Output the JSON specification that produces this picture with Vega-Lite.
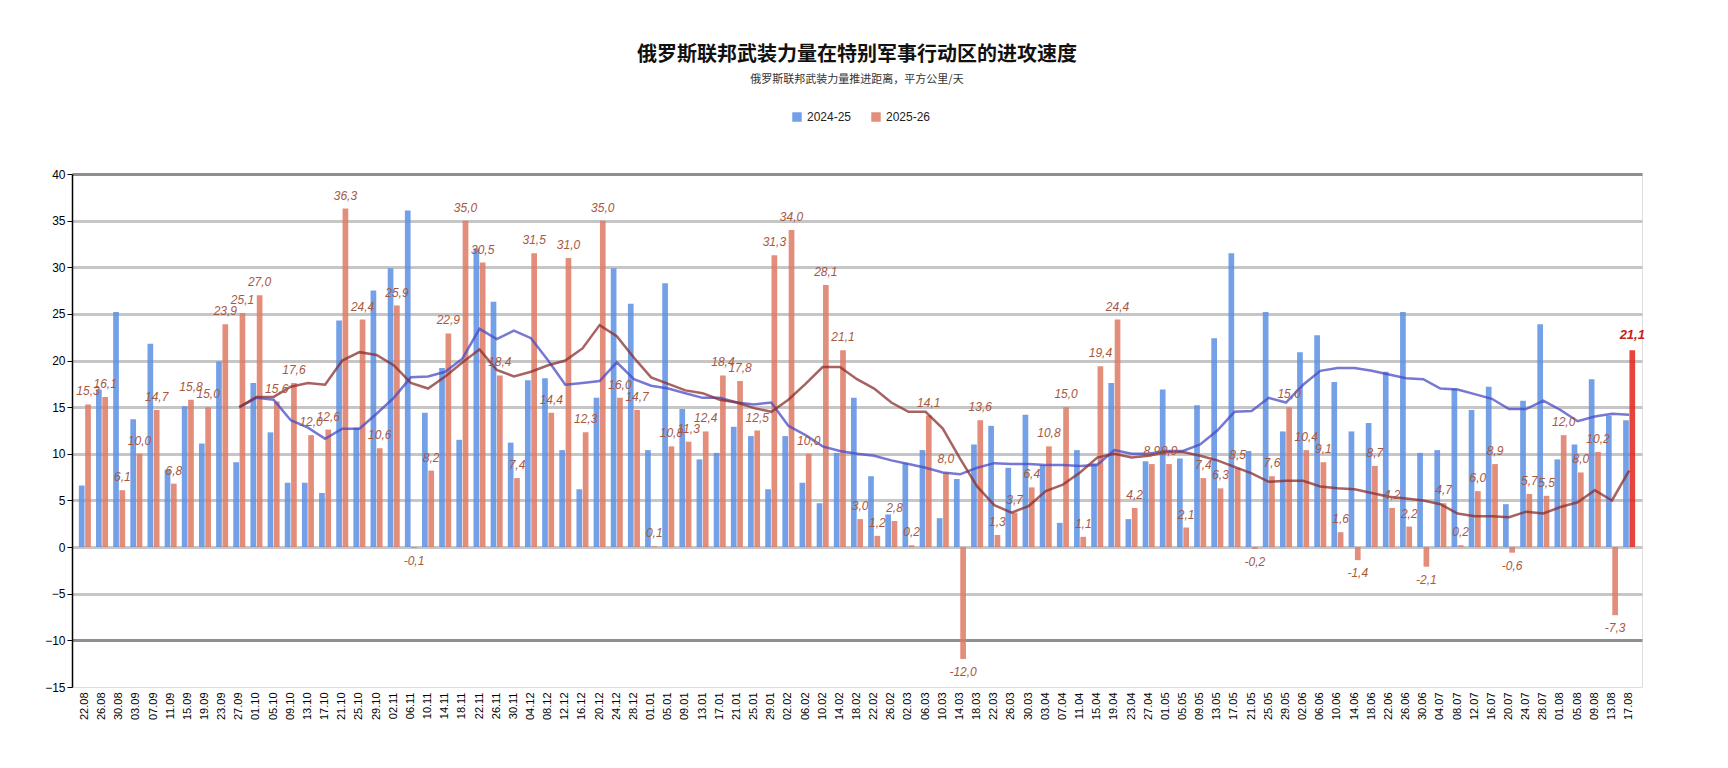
{
  "$schema": "https://vega.github.io/schema/vega-lite/v6.json",
  "autosize": {"type": "none"},
  "width": 1570,
  "height": 513,
  "padding": {"left": 72, "top": 174, "right": 86, "bottom": 81},
  "background": "white",
  "title": {
    "text": "俄罗斯联邦武装力量在特别军事行动区的进攻速度",
    "subtitle": "俄罗斯联邦武装力量推进距离，平方公里/天",
    "font": "Noto Sans CJK SC",
    "fontSize": 20,
    "fontWeight": "bold",
    "color": "#111",
    "subtitleFont": "Noto Sans CJK SC",
    "subtitleFontSize": 11,
    "subtitleColor": "#333",
    "subtitlePadding": 9,
    "anchor": "middle",
    "offset": 26
  },
  "data": {
    "values": [
      {"d": "22.08", "2024-25": 6.6, "2025-26": 15.3, "ma1": null, "ma2": null},
      {"d": "26.08", "2024-25": 16.9, "2025-26": 16.1, "ma1": null, "ma2": null},
      {"d": "30.08", "2024-25": 25.2, "2025-26": 6.1, "ma1": null, "ma2": null},
      {"d": "03.09", "2024-25": 13.7, "2025-26": 10.0, "ma1": null, "ma2": null},
      {"d": "07.09", "2024-25": 21.8, "2025-26": 14.7, "ma1": null, "ma2": null},
      {"d": "11.09", "2024-25": 8.3, "2025-26": 6.8, "ma1": null, "ma2": null},
      {"d": "15.09", "2024-25": 15.1, "2025-26": 15.8, "ma1": null, "ma2": null},
      {"d": "19.09", "2024-25": 11.1, "2025-26": 15.0, "ma1": null, "ma2": null},
      {"d": "23.09", "2024-25": 19.9, "2025-26": 23.9, "ma1": null, "ma2": null},
      {"d": "27.09", "2024-25": 9.1, "2025-26": 25.1, "ma1": 15.0, "ma2": 15.0},
      {"d": "01.10", "2024-25": 17.6, "2025-26": 27.0, "ma1": 16.0, "ma2": 16.1},
      {"d": "05.10", "2024-25": 12.3, "2025-26": 15.6, "ma1": 15.8, "ma2": 16.1},
      {"d": "09.10", "2024-25": 6.9, "2025-26": 17.6, "ma1": 13.6, "ma2": 17.2},
      {"d": "13.10", "2024-25": 6.9, "2025-26": 12.0, "ma1": 12.8, "ma2": 17.6},
      {"d": "17.10", "2024-25": 5.8, "2025-26": 12.6, "ma1": 11.6, "ma2": 17.4},
      {"d": "21.10", "2024-25": 24.3, "2025-26": 36.3, "ma1": 12.7, "ma2": 20.0},
      {"d": "25.10", "2024-25": 12.8, "2025-26": 24.4, "ma1": 12.7, "ma2": 20.9},
      {"d": "29.10", "2024-25": 27.5, "2025-26": 10.6, "ma1": 14.3, "ma2": 20.6},
      {"d": "02.11", "2024-25": 29.9, "2025-26": 25.9, "ma1": 16.0, "ma2": 19.5},
      {"d": "06.11", "2024-25": 36.1, "2025-26": -0.1, "ma1": 18.2, "ma2": 17.6},
      {"d": "10.11", "2024-25": 14.4, "2025-26": 8.2, "ma1": 18.3, "ma2": 17.0},
      {"d": "14.11", "2024-25": 19.2, "2025-26": 22.9, "ma1": 18.8, "ma2": 18.3},
      {"d": "18.11", "2024-25": 11.5, "2025-26": 35.0, "ma1": 20.2, "ma2": 19.8},
      {"d": "22.11", "2024-25": 32.0, "2025-26": 30.5, "ma1": 23.4, "ma2": 21.2},
      {"d": "26.11", "2024-25": 26.3, "2025-26": 18.4, "ma1": 22.3, "ma2": 19.0},
      {"d": "30.11", "2024-25": 11.2, "2025-26": 7.4, "ma1": 23.2, "ma2": 18.3},
      {"d": "04.12", "2024-25": 17.9, "2025-26": 31.5, "ma1": 22.4, "ma2": 18.8},
      {"d": "08.12", "2024-25": 18.1, "2025-26": 14.4, "ma1": 20.0, "ma2": 19.5},
      {"d": "12.12", "2024-25": 10.4, "2025-26": 31.0, "ma1": 17.4, "ma2": 20.0},
      {"d": "16.12", "2024-25": 6.2, "2025-26": 12.3, "ma1": 17.6, "ma2": 21.3},
      {"d": "20.12", "2024-25": 16.0, "2025-26": 35.0, "ma1": 17.8, "ma2": 23.8},
      {"d": "24.12", "2024-25": 29.9, "2025-26": 16.0, "ma1": 19.8, "ma2": 22.6},
      {"d": "28.12", "2024-25": 26.1, "2025-26": 14.7, "ma1": 18.0, "ma2": 20.3},
      {"d": "01.01", "2024-25": 10.4, "2025-26": 0.1, "ma1": 17.3, "ma2": 18.2},
      {"d": "05.01", "2024-25": 28.3, "2025-26": 10.8, "ma1": 17.0, "ma2": 17.5},
      {"d": "09.01", "2024-25": 14.8, "2025-26": 11.3, "ma1": 16.5, "ma2": 16.8},
      {"d": "13.01", "2024-25": 9.4, "2025-26": 12.4, "ma1": 16.0, "ma2": 16.5},
      {"d": "17.01", "2024-25": 10.1, "2025-26": 18.4, "ma1": 16.0, "ma2": 15.8},
      {"d": "21.01", "2024-25": 12.9, "2025-26": 17.8, "ma1": 15.5, "ma2": 15.5},
      {"d": "25.01", "2024-25": 11.9, "2025-26": 12.5, "ma1": 15.3, "ma2": 14.9},
      {"d": "29.01", "2024-25": 6.2, "2025-26": 31.3, "ma1": 15.5, "ma2": 14.5},
      {"d": "02.02", "2024-25": 11.9, "2025-26": 34.0, "ma1": 13.0, "ma2": 15.8},
      {"d": "06.02", "2024-25": 6.9, "2025-26": 10.0, "ma1": 12.0, "ma2": 17.5},
      {"d": "10.02", "2024-25": 4.7, "2025-26": 28.1, "ma1": 10.8, "ma2": 19.3},
      {"d": "14.02", "2024-25": 10.1, "2025-26": 21.1, "ma1": 10.3, "ma2": 19.3},
      {"d": "18.02", "2024-25": 16.0, "2025-26": 3.0, "ma1": 10.0, "ma2": 18.0},
      {"d": "22.02", "2024-25": 7.6, "2025-26": 1.2, "ma1": 9.8, "ma2": 17.0},
      {"d": "26.02", "2024-25": 3.5, "2025-26": 2.8, "ma1": 9.3, "ma2": 15.5},
      {"d": "02.03", "2024-25": 9.0, "2025-26": 0.2, "ma1": 8.9, "ma2": 14.5},
      {"d": "06.03", "2024-25": 10.4, "2025-26": 14.1, "ma1": 8.5, "ma2": 14.5},
      {"d": "10.03", "2024-25": 3.1, "2025-26": 8.0, "ma1": 8.0, "ma2": 12.7},
      {"d": "14.03", "2024-25": 7.3, "2025-26": -12.0, "ma1": 7.8, "ma2": 9.5},
      {"d": "18.03", "2024-25": 11.0, "2025-26": 13.6, "ma1": 8.5, "ma2": 6.5},
      {"d": "22.03", "2024-25": 13.0, "2025-26": 1.3, "ma1": 9.0, "ma2": 4.5},
      {"d": "26.03", "2024-25": 8.5, "2025-26": 3.7, "ma1": 8.9, "ma2": 3.7},
      {"d": "30.03", "2024-25": 14.2, "2025-26": 6.4, "ma1": 8.9, "ma2": 4.4},
      {"d": "03.04", "2024-25": 8.8, "2025-26": 10.8, "ma1": 8.8, "ma2": 6.0},
      {"d": "07.04", "2024-25": 2.6, "2025-26": 15.0, "ma1": 8.8, "ma2": 6.7},
      {"d": "11.04", "2024-25": 10.4, "2025-26": 1.1, "ma1": 8.7, "ma2": 8.0},
      {"d": "15.04", "2024-25": 9.0, "2025-26": 19.4, "ma1": 8.8, "ma2": 9.6},
      {"d": "19.04", "2024-25": 17.6, "2025-26": 24.4, "ma1": 10.4, "ma2": 10.0},
      {"d": "23.04", "2024-25": 3.0, "2025-26": 4.2, "ma1": 10.0, "ma2": 9.6},
      {"d": "27.04", "2024-25": 9.2, "2025-26": 8.9, "ma1": 10.0, "ma2": 9.8},
      {"d": "01.05", "2024-25": 16.9, "2025-26": 8.9, "ma1": 10.3, "ma2": 10.2},
      {"d": "05.05", "2024-25": 9.5, "2025-26": 2.1, "ma1": 10.3, "ma2": 10.2},
      {"d": "09.05", "2024-25": 15.2, "2025-26": 7.4, "ma1": 11.0, "ma2": 9.8},
      {"d": "13.05", "2024-25": 22.4, "2025-26": 6.3, "ma1": 12.5, "ma2": 9.3},
      {"d": "17.05", "2024-25": 31.5, "2025-26": 8.5, "ma1": 14.5, "ma2": 8.6},
      {"d": "21.05", "2024-25": 10.3, "2025-26": -0.2, "ma1": 14.6, "ma2": 7.9},
      {"d": "25.05", "2024-25": 25.2, "2025-26": 7.6, "ma1": 16.0, "ma2": 7.0},
      {"d": "29.05", "2024-25": 12.4, "2025-26": 15.0, "ma1": 15.5, "ma2": 7.1},
      {"d": "02.06", "2024-25": 20.9, "2025-26": 10.4, "ma1": 17.4, "ma2": 7.1},
      {"d": "06.06", "2024-25": 22.7, "2025-26": 9.1, "ma1": 18.9, "ma2": 6.5},
      {"d": "10.06", "2024-25": 17.7, "2025-26": 1.6, "ma1": 19.2, "ma2": 6.3},
      {"d": "14.06", "2024-25": 12.4, "2025-26": -1.4, "ma1": 19.2, "ma2": 6.2},
      {"d": "18.06", "2024-25": 13.3, "2025-26": 8.7, "ma1": 18.9, "ma2": 5.8},
      {"d": "22.06", "2024-25": 18.8, "2025-26": 4.2, "ma1": 18.5, "ma2": 5.4},
      {"d": "26.06", "2024-25": 25.2, "2025-26": 2.2, "ma1": 18.1, "ma2": 5.2},
      {"d": "30.06", "2024-25": 10.1, "2025-26": -2.1, "ma1": 18.0, "ma2": 5.0},
      {"d": "04.07", "2024-25": 10.4, "2025-26": 4.7, "ma1": 17.0, "ma2": 4.6},
      {"d": "08.07", "2024-25": 17.0, "2025-26": 0.2, "ma1": 16.9, "ma2": 3.6},
      {"d": "12.07", "2024-25": 14.7, "2025-26": 6.0, "ma1": 16.4, "ma2": 3.3},
      {"d": "16.07", "2024-25": 17.2, "2025-26": 8.9, "ma1": 15.9, "ma2": 3.3},
      {"d": "20.07", "2024-25": 4.6, "2025-26": -0.6, "ma1": 14.8, "ma2": 3.2},
      {"d": "24.07", "2024-25": 15.7, "2025-26": 5.7, "ma1": 14.8, "ma2": 3.8},
      {"d": "28.07", "2024-25": 23.9, "2025-26": 5.5, "ma1": 15.7, "ma2": 3.6},
      {"d": "01.08", "2024-25": 9.4, "2025-26": 12.0, "ma1": 14.7, "ma2": 4.3},
      {"d": "05.08", "2024-25": 11.0, "2025-26": 8.0, "ma1": 13.5, "ma2": 4.8},
      {"d": "09.08", "2024-25": 18.0, "2025-26": 10.2, "ma1": 14.0, "ma2": 6.1},
      {"d": "13.08", "2024-25": 14.1, "2025-26": -7.3, "ma1": 14.3, "ma2": 5.0},
      {"d": "17.08", "2024-25": 13.6, "2025-26": 21.1, "ma1": 14.2, "ma2": 8.2}
    ]
  },
  "encoding": {
    "x": {
      "field": "d",
      "type": "ordinal",
      "sort": null,
      "scale": {"paddingInner": 0.3, "paddingOuter": 0.4},
      "axis": {
        "title": null,
        "labelAngle": -90,
        "labelFont": "Liberation Sans",
        "labelFontSize": 11,
        "labelColor": "#000",
        "labelPadding": 5,
        "ticks": false,
        "domain": false
      }
    }
  },
  "layer": [
    {
      "transform": [{"fold": ["2024-25", "2025-26"], "as": ["series", "value"]}],
      "mark": {"type": "bar", "opacity": 0.85},
      "encoding": {
        "xOffset": {"field": "series", "type": "nominal", "scale": {"paddingInner": 0.1}},
        "y": {
          "field": "value",
          "type": "quantitative",
          "scale": {"domain": [-15, 40], "nice": false},
          "axis": {
            "title": null,
            "values": [-15, -10, -5, 0, 5, 10, 15, 20, 25, 30, 35, 40],
            "labelFont": "Liberation Sans",
            "labelFontSize": 12,
            "labelColor": "#000",
            "domainColor": "#000",
            "domainWidth": 1.5,
            "tickColor": "#000",
            "tickSize": 5,
            "gridWidth": 3,
            "gridColor": {
              "condition": {"test": "datum.value === 40 || datum.value === -10", "value": "#8f8f8f"},
              "value": "#c6c6c6"
            },
            "gridOpacity": {
              "condition": {"test": "datum.value === -15", "value": 0},
              "value": 1
            }
          }
        },
        "color": {
          "field": "series",
          "type": "nominal",
          "condition": {"test": "datum.d === '17.08' && datum.series === '2025-26'", "value": "#e3231c"},
          "scale": {"domain": ["2024-25", "2025-26"], "range": ["#5a8fe3", "#de7a63"]},
          "legend": {
            "title": null,
            "orient": "none",
            "legendX": 719,
            "legendY": -63,
            "direction": "horizontal",
            "symbolType": "square",
            "symbolSize": 90,
            "labelFont": "Liberation Sans",
            "labelFontSize": 12,
            "labelColor": "#222",
            "columnPadding": 18
          }
        }
      }
    },
    {
      "transform": [{"filter": "isValid(datum.ma1)"}],
      "mark": {"type": "line", "color": "#4a4ac6", "strokeWidth": 2.5, "opacity": 0.75},
      "encoding": {"y": {"field": "ma1", "type": "quantitative"}}
    },
    {
      "transform": [{"filter": "isValid(datum.ma2)"}],
      "mark": {"type": "line", "color": "#8a2d2d", "strokeWidth": 2.5, "opacity": 0.75},
      "encoding": {"y": {"field": "ma2", "type": "quantitative"}}
    },
    {
      "transform": [
        {"fold": ["2024-25", "2025-26"], "as": ["series", "value"]},
        {"filter": "datum.series === '2025-26' && datum.value >= 0 && datum.d !== '17.08'"},
        {"calculate": "replace(format(datum.value, '.1f'), '.', ',')", "as": "lbl"}
      ],
      "mark": {"type": "text", "baseline": "bottom", "dy": -6, "fontStyle": "italic", "font": "Liberation Sans", "fontSize": 12, "color": "#a8583f"},
      "encoding": {
        "xOffset": {"field": "series", "type": "nominal"},
        "y": {"field": "value", "type": "quantitative"},
        "text": {"field": "lbl"}
      }
    },
    {
      "transform": [
        {"fold": ["2024-25", "2025-26"], "as": ["series", "value"]},
        {"filter": "datum.series === '2025-26' && datum.value < 0"},
        {"calculate": "replace(replace(format(datum.value, '.1f'), '.', ','), '\u2212', '-')", "as": "lbl"}
      ],
      "mark": {"type": "text", "baseline": "top", "dy": 8, "fontStyle": "italic", "font": "Liberation Sans", "fontSize": 12, "color": "#a8583f"},
      "encoding": {
        "xOffset": {"field": "series", "type": "nominal"},
        "y": {"field": "value", "type": "quantitative"},
        "text": {"field": "lbl"}
      }
    },
    {
      "transform": [
        {"fold": ["2024-25", "2025-26"], "as": ["series", "value"]},
        {"filter": "datum.series === '2025-26' && datum.d === '17.08'"},
        {"calculate": "replace(format(datum.value, '.1f'), '.', ',')", "as": "lbl"}
      ],
      "mark": {"type": "text", "baseline": "bottom", "dy": -8, "fontStyle": "italic", "fontWeight": "bold", "font": "Liberation Sans", "fontSize": 13, "color": "#c8201a"},
      "encoding": {
        "xOffset": {"field": "series", "type": "nominal"},
        "y": {"field": "value", "type": "quantitative"},
        "text": {"field": "lbl"}
      }
    }
  ]
}
